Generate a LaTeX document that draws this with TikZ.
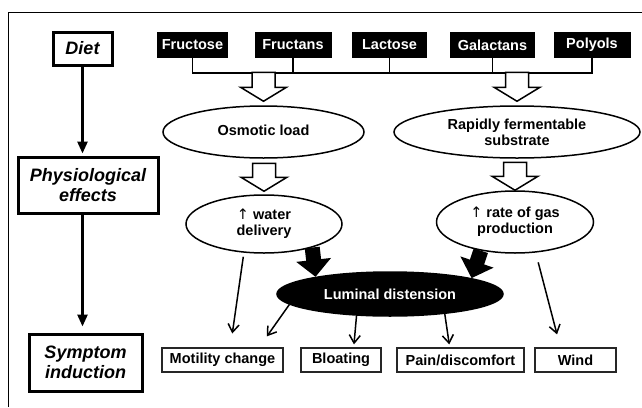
\documentclass[tikz,border=0pt]{standalone}
\usepackage{fontspec}
\setmainfont{Liberation Sans}
\newfontfamily\arrowfont{DejaVu Sans}
\usetikzlibrary{shapes.geometric,arrows.meta,calc}
\newcommand\uparr{{\arrowfont\mdseries ↑}}
\newcommand\hollowto[3]{% #1 tip anchor, #2 length, #3 gap
  \draw[hollow] ($(#1)+(-11.5,-#2-#3)$) -- ($(#1)+(-11.5,-14-#3)$) -- ($(#1)+(-23,-14-#3)$) -- ($(#1)+(0,-#3)$) -- ($(#1)+(23,-14-#3)$) -- ($(#1)+(11.5,-14-#3)$) -- ($(#1)+(11.5,-#2-#3)$) -- cycle;}
\begin{document}
\begin{tikzpicture}[x=1pt,y=-1pt,
  lbl/.style={draw, line width=3pt, inner sep=0pt, align=center, font=\fontsize{18}{20}\selectfont\bfseries\itshape},
  food/.style={fill=black, text=white, inner sep=0pt, minimum height=26pt, font=\fontsize{14.5}{16}\selectfont\bfseries},
  ell/.style={ellipse, draw, line width=1.5pt, inner sep=0pt, align=center, font=\fontsize{14.5}{16}\selectfont\bfseries},
  symbox/.style={draw=black!85, line width=1.3pt, inner sep=0pt, minimum height=24pt, font=\fontsize{14.5}{16}\selectfont\bfseries},
  mainarrow/.style={line width=2.6pt, -{Triangle[length=12pt,width=10pt]}},
  thinarrow/.style={line width=1.5pt, -{Straight Barb[length=8pt,width=11pt]}},
  blockarrow/.style={line width=15pt, -{Triangle[length=17pt,width=34pt]}},
  hollow/.style={draw, fill=white, line width=1.5pt, line join=miter},
  bracket/.style={line width=1.5pt}
]
\useasboundingbox (0,0) rectangle (642,407);
\draw[line width=1pt] (8,407) -- (8,12) -- (642,12);

% left column
\node[lbl, minimum width=59pt, minimum height=33pt] (diet) at (82.5,48.5) {Diet};
\node[lbl, minimum width=140pt, minimum height=56pt] (phys) at (88,185) {Physiological\\effects};
\node[lbl, minimum width=113pt, minimum height=57pt] (symp) at (85.5,362.5) {Symptom\\induction};
\draw[mainarrow, shorten >=2pt] (diet.south) -- (diet.south |- phys.north);
\draw[mainarrow, shorten >=6pt] (phys.south -| diet.south) -- (symp.north -| diet.south);

% foods
\node[food, minimum width=71pt] (fru) at (192.5,45) {Fructose};
\node[food, minimum width=77pt] (frn) at (293,45) {Fructans};
\node[food, minimum width=75pt] (lac) at (389.5,45) {Lactose};
\node[food, minimum width=85pt] (gal) at (492.5,45) {Galactans};
\node[food, minimum width=77pt] (pol) at (592,45) {Polyols};
\draw[bracket] (fru.south) -- ++(0,15) -| (pol.south);
\draw[bracket] (frn.south) -- ++(0,15);
\draw[bracket] (lac.south) -- ++(0,15);
\draw[bracket] (gal.south) -- ++(0,15);

% ellipses
\node[ell, minimum width=201pt, minimum height=52pt] (osm) at (263.5,132) {\raisebox{4pt}{Osmotic load}};
\node[ell, minimum width=246pt, minimum height=52pt] (rfs) at (517,132) {Rapidly fermentable\\substrate};
\node[ell, minimum width=156pt, minimum height=58pt] (water) at (264,224) {\uparr{} water\\delivery};
\node[ell, minimum width=157pt, minimum height=62pt] (gas) at (515,222) {\uparr{} rate of gas\\production};

\hollowto{osm.north}{29}{4}
\hollowto{rfs.north}{29}{4}
\hollowto{water.north}{28}{3}
\hollowto{gas.north}{28}{0}

\node[ell, fill=black, text=white, minimum width=226pt, minimum height=44pt] (lum) at (390,294) {Luminal distension};

\draw[blockarrow] (water.-26) -- (lum.167);
\draw[blockarrow] (gas.-140) -- (lum.11);

% symptoms
\node[symbox, minimum width=121pt] (mot) at (222.5,360) {Motility change};
\node[symbox, minimum width=80pt] (blo) at (341,360) {Bloating};
\node[symbox, minimum width=127pt] (pain) at (460.5,360) {Pain/discomfort};
\node[symbox, minimum width=81pt] (wind) at (575.5,360) {Wind};

\draw[thinarrow, shorten <=4pt, shorten >=14pt] (water.-125) -- ([xshift=7.8pt]mot.north);
\draw[thinarrow, shorten >=13.5pt] (lum.186) -- ([xshift=36.6pt]mot.north);
\draw[thinarrow, shorten >=3pt] (lum.-147.5) -- ([xshift=12.7pt]blo.north);
\draw[thinarrow, shorten >=3pt] (lum.-20.7) -- ([xshift=-10.8pt]pain.north);
\draw[thinarrow, shorten <=10pt, shorten >=13.4pt] (gas.-56) -- ([xshift=-15.1pt]wind.north);
\end{tikzpicture}
\end{document}
